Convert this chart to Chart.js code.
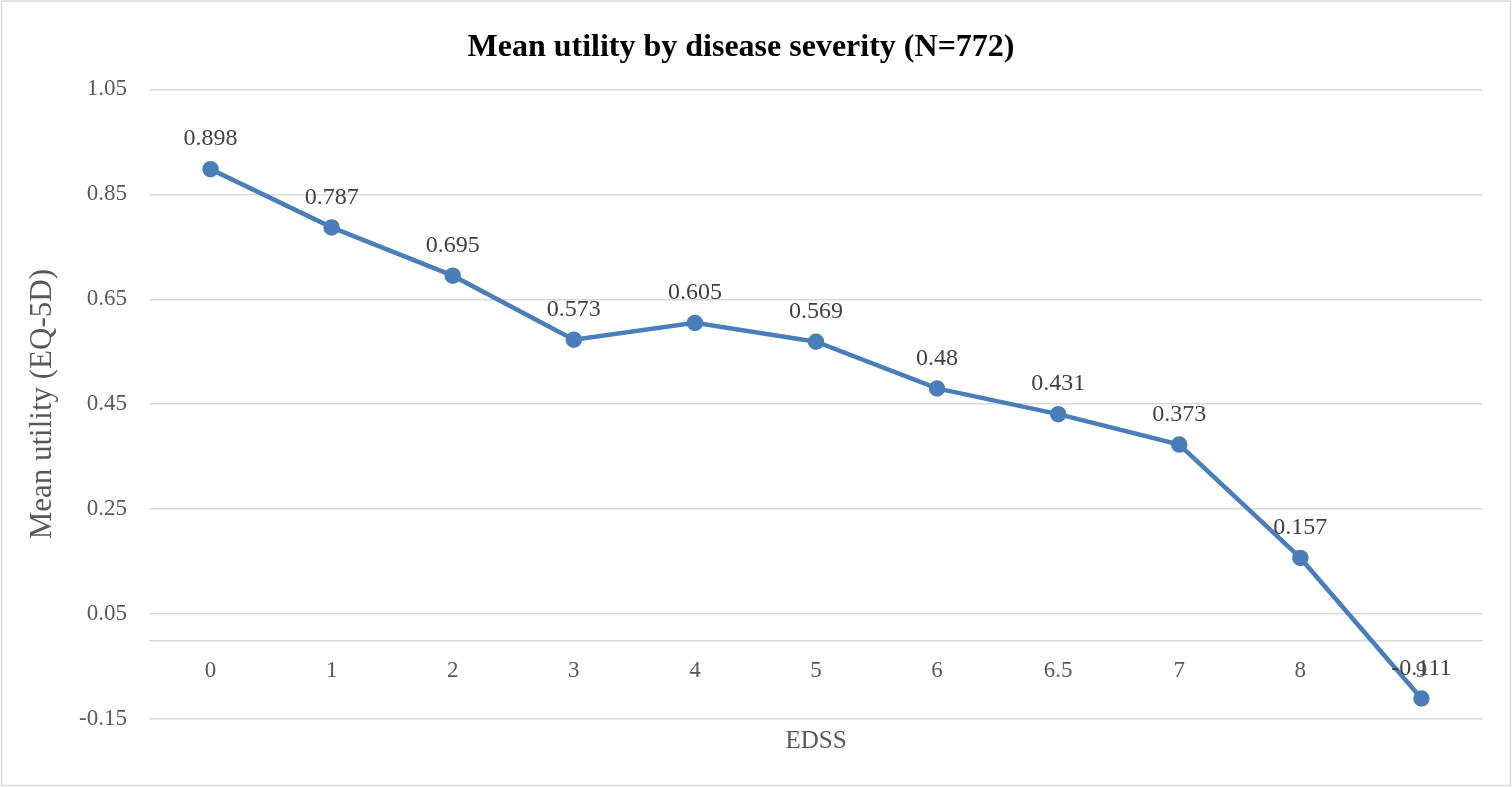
<!DOCTYPE html>
<html>
<head>
<meta charset="utf-8">
<script src="https://cdn.jsdelivr.net/npm/chart.js"></script>
<style>
  html, body { margin: 0; padding: 0; background: #fff; }
  #wrap { width: 1512px; height: 787px; }
</style>
</head>
<body>
<div id="wrap"><canvas id="utilityChart" width="1512" height="787"></canvas></div>
<script>
const edssLabels = ["0", "1", "2", "3", "4", "5", "6", "6.5", "7", "8", "9"];
const meanUtility = [0.898, 0.787, 0.695, 0.573, 0.605, 0.569, 0.48, 0.431, 0.373, 0.157, -0.111];
const yTickValues = [-0.15, 0.05, 0.25, 0.45, 0.65, 0.85, 1.05];

const textColor = "#595959";
const gridColor = "#d9d9d9";
const serif = "'Liberation Serif', 'DejaVu Serif', serif";

// value labels above each point
const pointLabels = {
  id: "pointLabels",
  afterDatasetsDraw(chart) {
    const ctx = chart.ctx;
    const meta = chart.getDatasetMeta(0);
    ctx.save();
    ctx.font = "24px " + serif;
    ctx.fillStyle = "#404040";
    ctx.textAlign = "center";
    ctx.textBaseline = "middle";
    meta.data.forEach((pt, i) => {
      ctx.fillText(String(meanUtility[i]), pt.x, pt.y - 30);
    });
    ctx.restore();
  }
};

// thin frame round the whole picture
const frame = {
  id: "frame",
  afterDraw(chart) {
    const ctx = chart.ctx;
    ctx.save();
    ctx.strokeStyle = gridColor;
    ctx.lineWidth = 1.5;
    ctx.strokeRect(1.5, 1, chart.width - 3, chart.height - 2.5);
    ctx.restore();
  }
};

new Chart(document.getElementById("utilityChart"), {
  type: "line",
  data: {
    labels: edssLabels,
    datasets: [{
      label: "Mean utility",
      data: meanUtility,
      borderColor: "#4a7ebb",
      backgroundColor: "#4a7ebb",
      borderWidth: 4.5,
      pointRadius: 6,
      pointHoverRadius: 6,
      tension: 0,
      fill: false,
      xAxisID: "x"
    }]
  },
  options: {
    responsive: false,
    animation: false,
    events: [],
    layout: { padding: { left: 0, right: 30, top: 0, bottom: 27 } },
    plugins: {
      legend: { display: false },
      tooltip: { enabled: false },
      title: {
        display: true,
        text: "Mean utility by disease severity (N=772)",
        color: "#000",
        font: { family: serif, size: 32, weight: "bold" },
        padding: { top: 29, bottom: 22 }
      }
    },
    scales: {
      y: {
        min: -0.15,
        max: 1.05,
        afterBuildTicks(scale) {
          scale.ticks = yTickValues.map(v => ({ value: v }));
        },
        afterFit(scale) { scale.width = 150; },
        grid: { color: gridColor, lineWidth: 1.5, drawTicks: false },
        border: { display: false },
        ticks: {
          color: textColor,
          padding: 23,
          font: { family: serif, size: 23 },
          callback: v => String(Math.round(v * 100) / 100)
        },
        title: {
          display: true,
          text: "Mean utility (EQ-5D)",
          color: textColor,
          font: { family: serif, size: 31 },
          padding: { top: 24, bottom: 0 }
        }
      },
      x: {
        type: "category",
        position: { y: 0 },
        offset: true,
        afterFit(scale) { scale.height = 0; },
        grid: { display: false, drawTicks: false },
        border: { display: true, color: gridColor, width: 1.5 },
        ticks: {
          color: textColor,
          padding: 17,
          font: { family: serif, size: 23 },
          maxRotation: 0,
          autoSkip: false
        }
      },
      xTitle: {
        type: "category",
        position: "bottom",
        labels: edssLabels,
        offset: true,
        grid: { display: false, drawTicks: false },
        border: { display: false },
        ticks: { display: false },
        title: {
          display: true,
          text: "EDSS",
          color: textColor,
          font: { family: serif, size: 25 },
          padding: { top: 7, bottom: 4 }
        }
      }
    }
  },
  plugins: [pointLabels, frame]
});
</script>
</body>
</html>
